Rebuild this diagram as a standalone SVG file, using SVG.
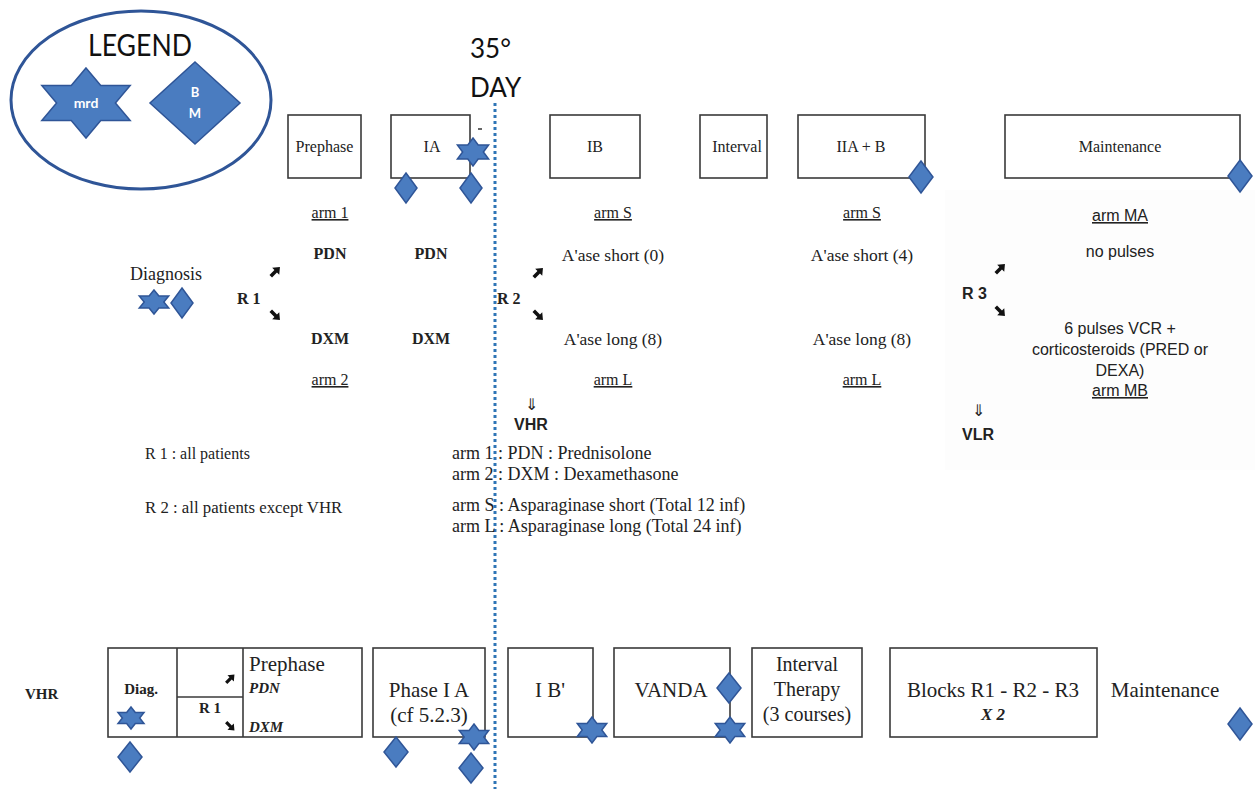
<svg xmlns="http://www.w3.org/2000/svg" xmlns:xlink="http://www.w3.org/1999/xlink" width="1255" height="789" viewBox="0 0 1255 789">
<style>
.box{fill:#fff;stroke:#3a3a3a;stroke-width:1.6}
.sh{fill:#4a7cc0;stroke:#2f5597;stroke-width:1.5;vector-effect:non-scaling-stroke}
.t{font-family:"Liberation Serif",serif;fill:#222}
.a{font-family:"Liberation Sans",Arial,sans-serif;fill:#222}
.c{font-family:Lato,"Open Sans",sans-serif;fill:#111}
.u{text-decoration:underline}
.b{font-weight:bold}
.m{text-anchor:middle}
.arw{fill:#111}
.w{fill:#fff;font-family:Lato,"Open Sans",sans-serif;font-weight:bold;text-anchor:middle}
</style>
<defs>
<path id="star" class="sh" d="M0,-1 L0.289,-0.5 L0.866,-0.5 L0.577,0 L0.866,0.5 L0.289,0.5 L0,1 L-0.289,0.5 L-0.866,0.5 L-0.577,0 L-0.866,-0.5 L-0.289,-0.5 Z"/>
<path id="dia" class="sh" d="M0,-1 L1,0 L0,1 L-1,0 Z"/>
<path id="arr" class="arw" d="M-6,-1.8 L1,-1.8 L1,-5 L7,0 L1,5 L1,1.8 L-6,1.8 Z"/>
</defs>
<rect width="1255" height="789" fill="#fff"/>
<rect x="945" y="190" width="310" height="280" fill="#fdfdfd"/>

<g id="legend">
<ellipse cx="141" cy="100" rx="130" ry="89" fill="none" stroke="#2f5597" stroke-width="3"/>
<text x="140" y="56" class="c m" font-size="30" textLength="104" lengthAdjust="spacingAndGlyphs">LEGEND</text>
<use xlink:href="#star" transform="translate(86,103) scale(51,35)"/>
<text x="86" y="108" class="w" font-size="14">mrd</text>
<use xlink:href="#dia" transform="translate(195,103) scale(45,41)"/>
<text x="195" y="97" class="w" font-size="13">B</text>
<text x="195" y="118" class="w" font-size="13">M</text>
</g>

<g id="day35">
<text x="470" y="58" class="c" font-size="26">35°</text>
<text x="470" y="97" class="c" font-size="26">DAY</text>
</g>

<g id="connectors">
<line x1="495" y1="103" x2="495" y2="789" stroke="#2e75b6" stroke-width="3" stroke-dasharray="3,3"/>
</g>

<g id="top-prephase">
<rect x="288" y="115" width="73" height="63" class="box"/>
<text x="324.5" y="152" class="t m" font-size="16">Prephase</text>
</g>
<g id="top-IA">
<rect x="391" y="115" width="79" height="63" class="box"/>
<text x="432" y="152" class="t m" font-size="16">IA</text>
<line x1="478" y1="129" x2="482" y2="129" stroke="#333" stroke-width="1.5"/>
<use xlink:href="#star" transform="translate(473,152) scale(18,14)"/>
<use xlink:href="#dia" transform="translate(406,188) scale(11,15)"/>
<use xlink:href="#dia" transform="translate(471,188) scale(11,15)"/>
</g>
<g id="top-IB">
<rect x="550" y="115" width="90" height="63" class="box"/>
<text x="595" y="152" class="t m" font-size="16">IB</text>
</g>
<g id="top-interval">
<rect x="700" y="115" width="67" height="63" class="box"/>
<text x="737" y="152" class="t m" font-size="16">Interval</text>
</g>
<g id="top-IIAB">
<rect x="798" y="115" width="127" height="63" class="box"/>
<text x="861" y="152" class="t m" font-size="16">IIA + B</text>
<use xlink:href="#dia" transform="translate(921,177) scale(12,16)"/>
</g>
<g id="top-maintenance">
<rect x="1005" y="115" width="235" height="63" class="box"/>
<text x="1120" y="152" class="t m" font-size="16">Maintenance</text>
<use xlink:href="#dia" transform="translate(1240,176) scale(12,16)"/>
</g>

<g id="r1-section">
<text x="330" y="218" class="t m u" font-size="16">arm 1</text>
<text x="330" y="259" class="t m b" font-size="16">PDN</text>
<text x="431" y="259" class="t m b" font-size="16">PDN</text>
<text x="330" y="344" class="t m b" font-size="16">DXM</text>
<text x="431" y="344" class="t m b" font-size="16">DXM</text>
<text x="330" y="385" class="t m u" font-size="16">arm 2</text>
<text x="237" y="304" class="t b" font-size="16">R 1</text>
<use xlink:href="#arr" transform="translate(275,272) rotate(-45)"/>
<use xlink:href="#arr" transform="translate(275,315) rotate(45)"/>
</g>

<g id="diagnosis">
<text x="130" y="280" class="t" font-size="18">Diagnosis</text>
<use xlink:href="#star" transform="translate(154,302) scale(17,12)"/>
<use xlink:href="#dia" transform="translate(182,303) scale(11,15)"/>
</g>

<g id="r2-section">
<text x="497" y="304" class="t b" font-size="16">R 2</text>
<use xlink:href="#arr" transform="translate(538,273) rotate(-45)"/>
<use xlink:href="#arr" transform="translate(538,315) rotate(45)"/>
<text x="613" y="218" class="t m u" font-size="16">arm S</text>
<text x="613" y="261" class="t m" font-size="17.5">A'ase short (0)</text>
<text x="613" y="345" class="t m" font-size="17.5">A'ase long (8)</text>
<text x="613" y="385" class="t m u" font-size="16">arm L</text>
<text x="862" y="218" class="t m u" font-size="16">arm S</text>
<text x="862" y="261" class="t m" font-size="17.5">A'ase short (4)</text>
<text x="862" y="345" class="t m" font-size="17.5">A'ase long (8)</text>
<text x="862" y="385" class="t m u" font-size="16">arm L</text>
<text x="531" y="410" class="a m" font-size="16">⇓</text>
<text x="531" y="430" class="a m b" font-size="16">VHR</text>
</g>

<g id="r3-section">
<text x="1120" y="221" class="a m u" font-size="16">arm MA</text>
<text x="1120" y="257" class="a m" font-size="16">no pulses</text>
<text x="962" y="299" class="a b" font-size="16">R 3</text>
<use xlink:href="#arr" transform="translate(1000,269) rotate(-45)"/>
<use xlink:href="#arr" transform="translate(1000,311) rotate(45)"/>
<text x="1120" y="334" class="a m" font-size="16">6 pulses VCR +</text>
<text x="1120" y="355" class="a m" font-size="16">corticosteroids (PRED or</text>
<text x="1120" y="376" class="a m" font-size="16">DEXA)</text>
<text x="1120" y="396" class="a m u" font-size="16">arm MB</text>
<text x="978" y="416" class="a m" font-size="16">⇓</text>
<text x="978" y="440" class="a m b" font-size="16">VLR</text>
</g>

<g id="notes">
<text x="145" y="459" class="t" font-size="16">R 1 : all patients</text>
<text x="145" y="513" class="t" font-size="16.8">R 2 : all patients except VHR</text>
<text x="452" y="459" class="t" font-size="18">arm 1 : PDN : Prednisolone</text>
<text x="452" y="480" class="t" font-size="18">arm 2 : DXM : Dexamethasone</text>
<text x="452" y="511" class="t" font-size="18">arm S : Asparaginase short (Total 12 inf)</text>
<text x="452" y="532" class="t" font-size="18">arm L : Asparaginase long (Total 24 inf)</text>
</g>

<g id="vhr-label">
<text x="25" y="699" class="t b" font-size="15">VHR</text>
</g>

<g id="vhr-diag-prephase">
<rect x="108" y="648" width="254" height="89" class="box"/>
<line x1="177" y1="648" x2="177" y2="737" stroke="#3a3a3a" stroke-width="1.6"/>
<line x1="243" y1="648" x2="243" y2="737" stroke="#3a3a3a" stroke-width="1.6"/>
<line x1="177" y1="697" x2="243" y2="697" stroke="#3a3a3a" stroke-width="1.6"/>
<text x="141" y="694" class="t m b" font-size="15">Diag.</text>
<use xlink:href="#star" transform="translate(131,718) scale(15,11)"/>
<use xlink:href="#dia" transform="translate(130,757) scale(12,15)"/>
<use xlink:href="#arr" transform="translate(230,679) rotate(-45) scale(0.9)"/>
<text x="210" y="713" class="t m b" font-size="15">R 1</text>
<use xlink:href="#arr" transform="translate(230,726) rotate(45) scale(0.9)"/>
<text x="249" y="671" class="t" font-size="21">Prephase</text>
<text x="249" y="693" class="t b" font-style="italic" font-size="15">PDN</text>
<text x="249" y="732" class="t b" font-style="italic" font-size="15">DXM</text>
</g>

<g id="vhr-phaseIA">
<rect x="373" y="648" width="112" height="89" class="box"/>
<text x="429" y="697" class="t m" font-size="21">Phase I A</text>
<text x="429" y="722" class="t m" font-size="21">(cf 5.2.3)</text>
<use xlink:href="#dia" transform="translate(396,752) scale(12,15)"/>
<use xlink:href="#star" transform="translate(474,737) scale(17,13)"/>
<use xlink:href="#dia" transform="translate(471,768) scale(12,15)"/>
</g>

<g id="vhr-IB">
<rect x="508" y="648" width="85" height="89" class="box"/>
<text x="550" y="697" class="t m" font-size="21">I B'</text>
<use xlink:href="#star" transform="translate(592,730) scale(17,13)"/>
</g>

<g id="vhr-vanda">
<rect x="614" y="648" width="116" height="89" class="box"/>
<text x="671" y="697" class="t m" font-size="21">VANDA</text>
<use xlink:href="#dia" transform="translate(729,688) scale(12,15)"/>
<use xlink:href="#star" transform="translate(730,730) scale(17,13)"/>
</g>

<g id="vhr-interval">
<rect x="752" y="648" width="110" height="89" class="box"/>
<text x="807" y="671" class="t m" font-size="20">Interval</text>
<text x="807" y="696" class="t m" font-size="20">Therapy</text>
<text x="807" y="721" class="t m" font-size="20">(3 courses)</text>
</g>

<g id="vhr-blocks">
<rect x="890" y="648" width="207" height="89" class="box"/>
<text x="993" y="697" class="t m" font-size="21">Blocks R1 - R2 - R3</text>
<text x="993" y="720" class="t m b" font-style="italic" font-size="17">X 2</text>
</g>

<g id="vhr-maintenance">
<text x="1165" y="697" class="t m" font-size="21">Maintenance</text>
<use xlink:href="#dia" transform="translate(1240,724) scale(12,16)"/>
</g>
</svg>
